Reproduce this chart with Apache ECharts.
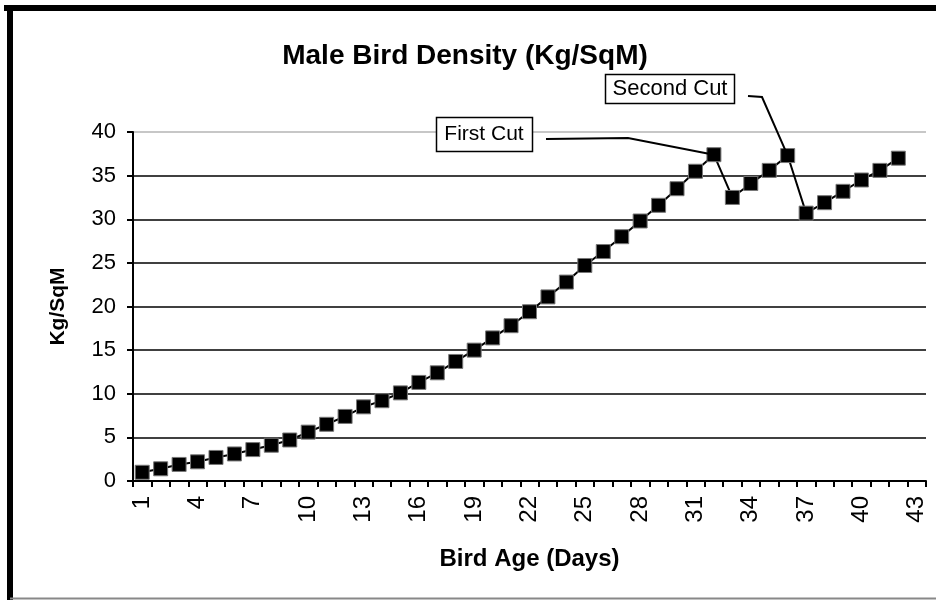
<!DOCTYPE html>
<html>
<head>
<meta charset="utf-8">
<script src="https://cdn.jsdelivr.net/npm/echarts@6/dist/echarts.min.js"></script>
<style>
    html, body { margin: 0; padding: 0; background: #fff; }
    #main { width: 936px; height: 600px; }
</style>
</head>
<body>
<div id="main"></div>
<script>
    // days on the x axis (43 slots, data stops at 42)
    var days = []
    for (var d = 1; d <= 43; d++) days.push(String(d))

    // density kg/sqm
    var density = [
        1.0, 1.4, 1.9, 2.2, 2.7, 3.1, 3.6, 4.1, 4.7, 5.6,
        6.5, 7.4, 8.5, 9.2, 10.1, 11.3, 12.4, 13.7, 15.0, 16.4,
        17.8, 19.4, 21.1, 22.8, 24.7, 26.3, 28.0, 29.8, 31.6, 33.5,
        35.5, 37.4, 32.5, 34.1, 35.6, 37.3, 30.7, 31.9, 33.2, 34.5,
        35.6, 37.0
    ]

    var cuts = [
        { text: 'First Cut', day: '32', value: 37.4 },
        { text: 'Second Cut', day: '36', value: 37.3 }
    ]

    var font = '"Liberation Sans", Arial, sans-serif'
    var chart = echarts.init(document.getElementById('main'))

    var option = {
        animation: false,
        backgroundColor: '#fff',
        title: {
            text: 'Male Bird Density (Kg/SqM)',
            left: 460,
            top: 37,
            textAlign: 'center',
            textStyle: { fontFamily: font, fontSize: 28, fontWeight: 'bold', color: '#000' }
        },
        grid: { left: 133, right: 10, top: 132, bottom: 119 },
        xAxis: {
            type: 'category',
            data: days,
            boundaryGap: true,
            name: 'Bird Age (Days)',
            nameLocation: 'middle',
            nameGap: 66,
            nameTextStyle: { fontFamily: font, fontSize: 24, fontWeight: 'bold', color: '#000' },
            axisLine: { lineStyle: { color: '#000', width: 2 } },
            axisTick: { show: true, interval: 0, length: 6, lineStyle: { color: '#000', width: 2 } },
            axisLabel: {
                interval: 2,
                rotate: 90,
                margin: 15,
                fontFamily: font,
                fontSize: 24,
                color: '#000'
            },
            splitLine: { show: false }
        },
        yAxis: {
            type: 'value',
            min: 0,
            max: 40,
            interval: 5,
            name: 'Kg/SqM',
            nameLocation: 'middle',
            nameGap: 64,
            nameTextStyle: { fontFamily: font, fontSize: 21, fontWeight: 'bold', color: '#000' },
            axisLine: { show: true, lineStyle: { color: '#000', width: 2 } },
            axisTick: { show: true, length: 6, lineStyle: { color: '#000', width: 2 } },
            axisLabel: { margin: 17, fontFamily: font, fontSize: 22, color: '#000' },
            splitLine: {
                show: true,
                lineStyle: {
                    color: ['#000', '#000', '#000', '#000', '#000', '#000', '#000', '#000', '#b4b4b4'],
                    width: 1.5
                }
            }
        },
        series: [{
            type: 'line',
            data: density,
            symbol: 'rect',
            symbolSize: 14,
            showAllSymbol: true,
            itemStyle: { color: '#000', borderColor: '#777', borderWidth: 1 },
            lineStyle: { color: '#000', width: 2 },
            z: 5
        }]
    }
    chart.setOption(option)

    // frame + call-out boxes; leader ends come from the axes
    var p1 = chart.convertToPixel({ seriesIndex: 0 }, [cuts[0].day, cuts[0].value])
    var p2 = chart.convertToPixel({ seriesIndex: 0 }, [cuts[1].day, cuts[1].value])

    chart.setOption({
        graphic: [
            { type: 'line', shape: { x1: 4, y1: 8, x2: 936, y2: 8 }, style: { stroke: '#000', lineWidth: 6 } },
            { type: 'line', shape: { x1: 10, y1: 5, x2: 10, y2: 600 }, style: { stroke: '#000', lineWidth: 6 } },
            { type: 'line', shape: { x1: 10, y1: 598.5, x2: 936, y2: 598.5 }, style: { stroke: '#888', lineWidth: 2 } },
            {
                type: 'polyline', z: 10,
                shape: { points: [[546, 139], [628, 138], [p1[0], p1[1]]] },
                style: { stroke: '#000', lineWidth: 2, fill: null }
            },
            {
                type: 'polyline', z: 10,
                shape: { points: [[748, 96], [762, 97], [p2[0], p2[1]]] },
                style: { stroke: '#000', lineWidth: 2, fill: null }
            },
            {
                type: 'rect', z: 10,
                shape: { x: 436.5, y: 117.5, width: 96, height: 34 },
                style: { fill: '#fff', stroke: '#000', lineWidth: 1.5 }
            },
            {
                type: 'text', z: 11, x: 484, y: 134,
                style: { text: cuts[0].text, font: '21px ' + font, fill: '#000', align: 'center', verticalAlign: 'middle' }
            },
            {
                type: 'rect', z: 10,
                shape: { x: 605.5, y: 74.5, width: 129, height: 29 },
                style: { fill: '#fff', stroke: '#000', lineWidth: 1.5 }
            },
            {
                type: 'text', z: 11, x: 670, y: 89,
                style: { text: cuts[1].text, font: '22px ' + font, fill: '#000', align: 'center', verticalAlign: 'middle' }
            }
        ]
    })
</script>
</body>
</html>
